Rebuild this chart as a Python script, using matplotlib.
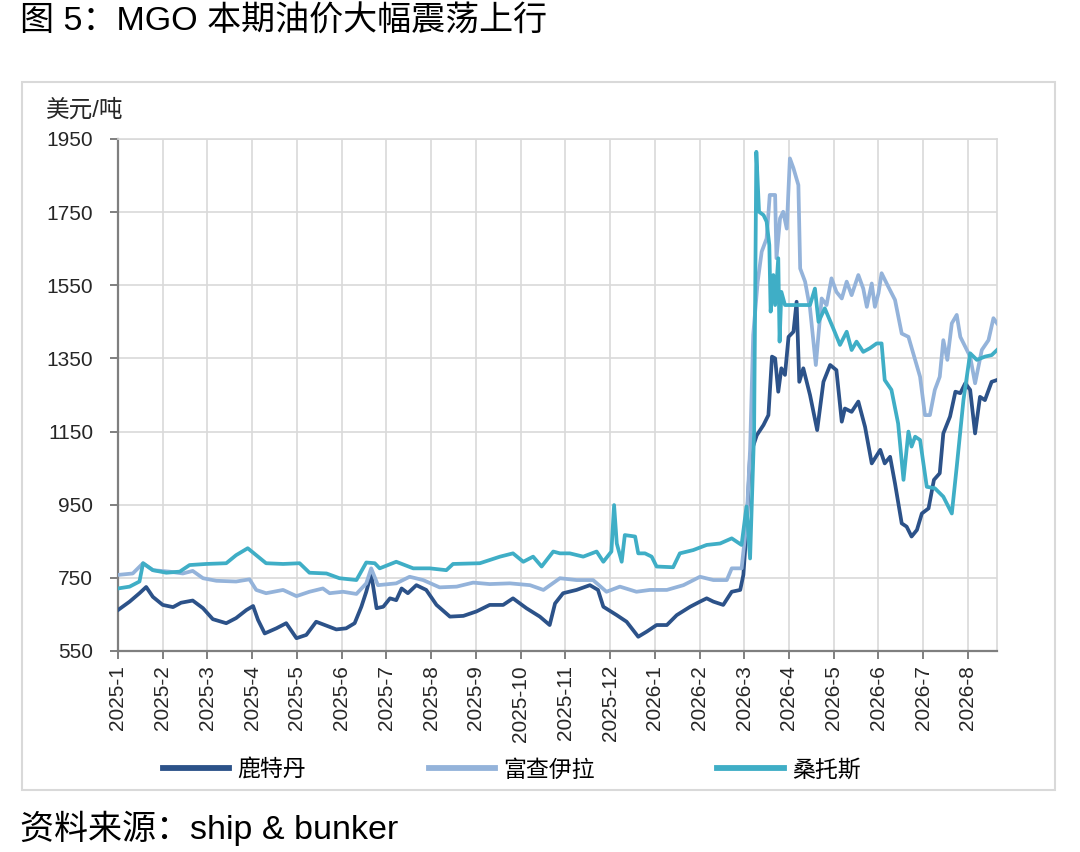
import matplotlib
matplotlib.use("Agg")
import matplotlib.pyplot as plt
from matplotlib.patches import Rectangle

plt.rcParams['font.family'] = ['Liberation Sans', 'Noto Sans CJK SC']

# x axis labels (one per month)
month_labels = ['2025-1', '2025-2', '2025-3', '2025-4', '2025-5', '2025-6', '2025-7',
                '2025-8', '2025-9', '2025-10', '2025-11', '2025-12', '2026-1', '2026-2',
                '2026-3', '2026-4', '2026-5', '2026-6', '2026-7', '2026-8']

# 鹿特丹 (position in months since 2025-1, price USD/t)
rtm_x = [0.0, 0.26, 0.48, 0.63, 0.78, 1.0, 1.23, 1.41, 1.67, 1.9,
         2.12, 2.42, 2.64, 2.87, 3.02, 3.13, 3.28, 3.54, 3.76, 3.99,
         4.21, 4.43, 4.73, 4.88, 5.1, 5.29, 5.44, 5.55, 5.66, 5.78,
         5.93, 6.08, 6.22, 6.34, 6.48, 6.67, 6.89, 7.12, 7.42, 7.72,
         8.01, 8.31, 8.61, 8.83, 9.13, 9.43, 9.65, 9.77, 9.95, 10.25,
         10.55, 10.73, 10.85, 11.15, 11.37, 11.63, 11.82, 12.04, 12.27, 12.49,
         12.79, 13.01, 13.16, 13.31, 13.53, 13.72, 13.91, 13.98, 14.05, 14.13,
         14.28, 14.43, 14.54, 14.62, 14.69, 14.76, 14.83, 14.91, 14.99, 15.1,
         15.17, 15.23, 15.32, 15.47, 15.63, 15.77, 15.92, 16.06, 16.18, 16.25,
         16.4, 16.55, 16.7, 16.85, 17.04, 17.14, 17.26, 17.37, 17.52, 17.63,
         17.74, 17.86, 17.97, 18.12, 18.24, 18.37, 18.45, 18.6, 18.72, 18.83,
         18.94, 19.05, 19.16, 19.27, 19.38, 19.53, 19.65]
rtm_y = [662, 685, 708, 725, 698, 676, 670, 682, 688, 667,
         637, 626, 640, 662, 673, 635, 598, 612, 626, 585,
         594, 630, 616, 609, 612, 626, 671, 712, 762, 667,
         671, 694, 689, 721, 708, 730, 717, 676, 644, 646,
         658, 676, 676, 694, 667, 644, 621, 680, 708, 717,
         730, 717, 671, 648, 630, 589, 603, 621, 621, 648,
         671, 685, 694, 685, 676, 712, 717, 758, 880, 1085,
         1140, 1168, 1195, 1355, 1350, 1259, 1323, 1305, 1409, 1423,
         1505, 1286, 1323, 1250, 1154, 1286, 1332, 1318, 1177, 1213,
         1204, 1232, 1163, 1063, 1100, 1063, 1081, 1008, 899, 890,
         863, 881, 926, 940, 1018, 1036, 1145, 1191, 1259, 1255,
         1282, 1264, 1145, 1245, 1236, 1286, 1291]

# 富查伊拉
fuj_x = [0.0, 0.33, 0.56, 0.78, 1.15, 1.45, 1.67, 1.9, 2.2, 2.64,
         2.94, 3.09, 3.31, 3.69, 3.99, 4.28, 4.58, 4.73, 5.03, 5.33,
         5.55, 5.66, 5.81, 6.22, 6.52, 6.82, 7.19, 7.57, 7.94, 8.31,
         8.76, 9.21, 9.51, 9.88, 10.25, 10.62, 10.92, 11.22, 11.59, 11.89,
         12.27, 12.64, 13.01, 13.31, 13.61, 13.72, 13.94, 14.05, 14.13, 14.2,
         14.3, 14.39, 14.5, 14.57, 14.69, 14.72, 14.8, 14.87, 14.95, 15.02,
         15.1, 15.21, 15.25, 15.36, 15.47, 15.6, 15.73, 15.84, 15.95, 16.06,
         16.18, 16.29, 16.4, 16.55, 16.66, 16.74, 16.85, 16.92, 17.0, 17.07,
         17.22, 17.37, 17.52, 17.67, 17.82, 17.93, 18.04, 18.15, 18.26, 18.37,
         18.45, 18.54, 18.64, 18.75, 18.83, 18.94, 19.05, 19.16, 19.31, 19.46,
         19.57, 19.65]
fuj_y = [758, 762, 790, 771, 767, 762, 769, 749, 742, 740,
         746, 717, 708, 717, 700, 712, 721, 708, 712, 706,
         735, 776, 730, 735, 753, 744, 724, 726, 737, 733,
         735, 730, 717, 749, 744, 744, 712, 726, 712, 717,
         717, 730, 753, 744, 744, 776, 776, 900, 1100, 1414,
         1560, 1642, 1678, 1797, 1797, 1624, 1733, 1751, 1705, 1897,
         1870, 1824, 1596, 1560, 1487, 1332, 1514, 1496, 1569, 1532,
         1514, 1560, 1523, 1578, 1541, 1491, 1555, 1491, 1528, 1583,
         1546, 1510, 1418, 1409, 1346, 1300, 1195, 1195, 1264, 1300,
         1400, 1346, 1446, 1469, 1409, 1382, 1355, 1282, 1373, 1400,
         1460, 1446]

# 桑托斯
san_x = [0.0, 0.26, 0.48, 0.56, 0.78, 1.08, 1.38, 1.6, 1.97, 2.42,
         2.64, 2.9, 3.09, 3.31, 3.69, 4.06, 4.28, 4.66, 4.95, 5.33,
         5.55, 5.74, 5.85, 6.22, 6.6, 6.97, 7.34, 7.49, 8.09, 8.54,
         8.83, 9.06, 9.28, 9.47, 9.73, 9.88, 10.1, 10.4, 10.7, 10.85,
         11.03, 11.09, 11.15, 11.26, 11.33, 11.56, 11.63, 11.78, 11.93, 12.04,
         12.41, 12.56, 12.86, 13.16, 13.46, 13.72, 13.94, 14.05, 14.13, 14.22,
         14.27, 14.33, 14.43, 14.5, 14.56, 14.59, 14.65, 14.69, 14.76, 14.79,
         14.83, 14.91, 15.17, 15.47, 15.58, 15.66, 15.8, 15.99, 16.14, 16.29,
         16.4, 16.51, 16.66, 16.81, 16.96, 17.07, 17.14, 17.29, 17.44, 17.56,
         17.67, 17.74, 17.82, 17.93, 18.08, 18.26, 18.45, 18.64, 18.75, 18.9,
         19.05, 19.2, 19.38, 19.53, 19.65]
san_y = [721, 726, 740, 790, 771, 764, 767, 785, 788, 790,
         812, 831, 812, 790, 788, 790, 764, 762, 749, 744,
         792, 790, 776, 794, 776, 776, 771, 788, 790, 808,
         817, 794, 808, 781, 822, 817, 817, 808, 822, 794,
         822, 949, 844, 794, 867, 863, 817, 817, 808, 781,
         779, 817, 826, 840, 844, 858, 840, 945, 803, 1150,
         1915, 1751, 1742, 1724, 1660, 1478, 1578, 1496, 1624, 1396,
         1532, 1496, 1496, 1496, 1541, 1450, 1487, 1432, 1387, 1423,
         1373, 1396, 1368, 1378, 1391, 1391, 1291, 1264, 1172, 1018,
         1150, 1109, 1136, 1127, 999, 995, 972, 926, 1054, 1236,
         1364, 1346, 1355, 1359, 1373]

y_ticks = [550, 750, 950, 1150, 1350, 1550, 1750, 1950]

c_rtm = '#2c5289'
c_fuj = '#94b3da'
c_san = '#3faec6'

fig = plt.figure(figsize=(10.8, 8.52), dpi=100)
ax = fig.add_axes([118 / 1080, 1 - 651 / 852, (997 - 118) / 1080, (651 - 139) / 852])

ax.plot(rtm_x, rtm_y, color=c_rtm, lw=2.7, label='鹿特丹', zorder=3)
ax.plot(fuj_x, fuj_y, color=c_fuj, lw=2.7, label='富查伊拉', zorder=3)
ax.plot(san_x, san_y, color=c_san, lw=2.7, label='桑托斯', zorder=4)

ax.set_xlim(0, 19.65)
ax.set_ylim(550, 1950)
ax.set_yticks(y_ticks)
ax.set_yticklabels([str(v) for v in y_ticks], fontsize=15, color='#262626')
ax.set_xticks(range(len(month_labels)))
ax.set_xticklabels(month_labels, rotation=90, fontsize=15, color='#262626')
ax.grid(True, color='#d9d9d9', lw=1.2)
ax.set_axisbelow(True)

for s in ['left', 'bottom']:
    ax.spines[s].set_color('#7f7f7f')
    ax.spines[s].set_linewidth(1.6)
for s in ['top', 'right']:
    ax.spines[s].set_color('#d9d9d9')
    ax.spines[s].set_linewidth(1.2)
ax.tick_params(direction='out', length=6, width=1.4, color='#7f7f7f')
ax.tick_params(axis='y', pad=12)
ax.tick_params(axis='x', pad=4)

fig.text(46 / 1080, 1 - 110 / 852, '美元/吨', fontsize=17, color='#262626', va='center')

fig.legend(loc='center left', bbox_to_anchor=(163 / 1080, 1 - 770 / 852), ncol=3,
           frameon=False, fontsize=16.5, handlelength=2.9, handletextpad=0.35,
           columnspacing=5.35, borderpad=0, borderaxespad=0)
for line in fig.legends[0].get_lines():
    line.set_linewidth(4.2)

fig.patches.append(Rectangle((22 / 1080, 1 - 790 / 852), (1055 - 22) / 1080, (790 - 82) / 852,
                             transform=fig.transFigure, fill=False, edgecolor='#d9d9d9', lw=1.5))

fig.text(20 / 1080, 1 - 22 / 852, '图 5：MGO 本期油价大幅震荡上行', fontsize=24.5, va='center', color='black')
fig.text(20 / 1080, 1 - 828 / 852, '资料来源：ship & bunker', fontsize=24.5, va='center', color='black')

fig.savefig('out.png', dpi=100)
